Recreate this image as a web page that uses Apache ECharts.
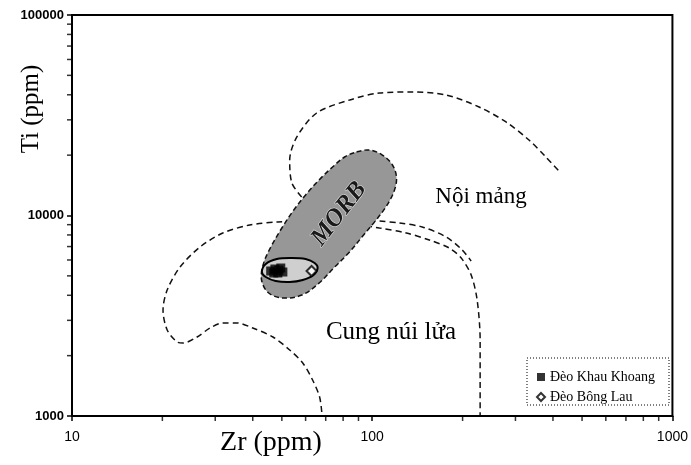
<!DOCTYPE html>
<html><head><meta charset="utf-8">
<script src="https://cdn.jsdelivr.net/npm/echarts@6/dist/echarts.min.js"></script>
<style>html,body{margin:0;padding:0;background:#fff}#c{width:691px;height:465px}</style>
</head><body><div id="c"></div>
<script>
// ---- data (Zr ppm, Ti ppm) ----
const xMinorTicks = [20,30,40,50,60,70,80,90,200,300,400,500,600,700,800,900];
const yMinorTicks = [2000,3000,4000,5000,6000,7000,8000,9000,20000,30000,40000,50000,60000,70000,80000,90000];
// within-plate field, upper boundary
const withinPlateUpper = [[58.2,12370],[54.0,14530],[53.1,18920],[56.1,24640],[65.3,32450],[84.1,37680],[105.7,40830],[136.0,41300],[176.4,39900],[227.0,34760],[279.0,29270],[332.7,23800],[378.8,19580],[424.9,16290]];
// within-plate field, lower boundary
const withinPlateLower = [[57.35,9716],[77.9,9716],[105.7,9388],[123.2,9175],[146.8,8764],[176.4,7812],[199.4,6730],[213.6,5931]];
// arc-lava field boundary
const arcBoundary = [[67.9,1047],[66.8,1244],[63.3,1512],[58.7,1838],[53.1,2134],[46.7,2477],[40.0,2747],[35.4,2910],[31.8,2910],[28.8,2747],[26.1,2477],[23.45,2313],[22.4,2340],[20.75,2685],[20.1,3379],[20.75,4250],[22.9,5535],[26.7,6965],[31.8,8180],[39.1,8966],[48.5,9281],[72.1,9388],[105.7,8664],[129.9,8180],[154.9,7548],[180.5,6884],[197.9,6138],[213.6,5049],[223.6,3790],[228.8,2394],[228.8,1512],[228.8,1012]];
// MORB field outline
const morbField = [[88.7,20740],[97.9,21210],[108.1,20030],[116.8,17860],[120.5,15380],[118.0,13100],[111.0,11030],[103.0,9497],[93.0,7902],[84.0,6577],[75.0,5535],[66.0,4553],[58.0,4000],[50.0,3880],[45.0,4130],[42.8,4768],[43.3,5664],[45.4,6730],[50.0,8664],[54.8,10650],[60.0,12660],[66.5,15030],[73.8,17460],[80.9,19580]];
// outline round the samples
const sampleOutline = [[42.9,5226],[44.2,5730],[48.1,6067],[53.95,6138],[60.0,6067],[64.3,5797],[65.8,5472],[63.8,5049],[58.7,4768],[53.1,4660],[47.7,4713],[44.2,4934]];
const khauKhoang = [[45.9,5286],[47.4,5409],[48.9,5347],[50.4,5226],[47.0,5167],[48.5,5167],[49.6,5472]];
const bongLau = [[62.8,5286]];
const seriesNames = ['Đèo Khau Khoang','Đèo Bông Lau'];

const chart = echarts.init(document.getElementById('c'), null, {renderer:'canvas'});
const dashed = {color:'#111', width:1.5, type:[6,4]};
function poly(points, style, z){
  return {type:'custom', coordinateSystem:'cartesian2d', data:[[50,5000]], z:z, clip:false, silent:true,
    renderItem:(params, api)=>({type:'polygon', shape:{points:points.map(p=>api.coord(p)), smooth:0.35}, style:style})};
}
function ticks(list, isX){
  return {type:'scatter', silent:true, clip:false, z:10, symbol:'rect',
    symbolSize: isX ? [1.5,5] : [5,1.5], symbolOffset: isX ? [0,2.5] : [-2.5,0],
    itemStyle:{color:'#000'}, data:list.map(v=> isX ? [v,1000] : [10,v])};
}
const plain = v => String(Math.round(v));
const option = {
  animation:false,
  backgroundColor:'#fff',
  grid:{left:72, right:17, top:15, bottom:49, show:true, borderColor:'#000', borderWidth:2},
  xAxis:{type:'log', logBase:10, min:10, max:1000,
    axisLine:{show:true, lineStyle:{color:'#000', width:2}},
    axisTick:{show:true, length:5, lineStyle:{color:'#000', width:1.5}},
    axisLabel:{color:'#000', fontFamily:'Liberation Sans', fontSize:14, margin:14, formatter:plain},
    splitLine:{show:false}},
  yAxis:{type:'log', logBase:10, min:1000, max:100000,
    axisLine:{show:true, lineStyle:{color:'#000', width:2}},
    axisTick:{show:true, length:5, lineStyle:{color:'#000', width:1.5}},
    axisLabel:{color:'#000', fontFamily:'Liberation Sans', fontSize:13, fontWeight:'bold', margin:8, formatter:plain},
    splitLine:{show:false}},
  legend:{orient:'vertical', left:531, top:365, itemWidth:8, itemHeight:8, itemGap:6, z:10,
    textStyle:{fontFamily:'Liberation Serif', fontSize:14, color:'#000'},
    data:[{name:seriesNames[0], icon:'rect'},{name:seriesNames[1], icon:'diamond'}]},
  graphic:[
    {type:'rect', z:1, shape:{x:527, y:358, width:142, height:47}, style:{fill:'#fff', stroke:'#000', lineWidth:1, lineDash:[1,2]}},
    {type:'text', z:50, x:481, y:197, style:{text:'Nội mảng', align:'center', verticalAlign:'middle', font:'23px "Liberation Serif"', fill:'#000'}},
    {type:'text', z:50, x:391, y:332, style:{text:'Cung núi lửa', align:'center', verticalAlign:'middle', font:'25px "Liberation Serif"', fill:'#000'}},
    {type:'text', z:50, x:339, y:214, rotation:52*Math.PI/180, style:{text:'MORB', align:'center', verticalAlign:'middle', font:'italic bold 25px "Liberation Serif"', fill:'#1a1a1a', stroke:'#e6e6e6', lineWidth:1}},
    {type:'text', z:50, x:271, y:443, style:{text:'Zr (ppm)', align:'center', verticalAlign:'middle', font:'28px "Liberation Serif"', fill:'#000'}},
    {type:'text', z:50, x:31, y:109, rotation:Math.PI/2, style:{text:'Ti (ppm)', align:'center', verticalAlign:'middle', font:'25px "Liberation Serif"', fill:'#000'}}
  ],
  series:[
    {type:'line', data:withinPlateUpper, showSymbol:false, smooth:0.3, silent:true, z:2, lineStyle:dashed},
    {type:'line', data:withinPlateLower, showSymbol:false, smooth:0.3, silent:true, z:2, lineStyle:dashed},
    {type:'line', data:arcBoundary, showSymbol:false, smooth:0.3, silent:true, z:2, lineStyle:dashed},
    poly(morbField, {fill:'#979797', stroke:'#111', lineWidth:1.5, lineDash:[5,3]}, 3),
    poly(sampleOutline, {fill:'#cfcfcf', stroke:'#000', lineWidth:2}, 4),
    {name:seriesNames[0], type:'scatter', data:khauKhoang, symbol:'rect', symbolSize:9, z:5, itemStyle:{color:'#000'}},
    {name:seriesNames[1], type:'scatter', data:bongLau, symbol:'diamond', symbolSize:10, z:5, itemStyle:{color:'#fff', borderColor:'#000', borderWidth:2}},
    ticks(xMinorTicks, true),
    ticks(yMinorTicks, false)
  ]
};
chart.setOption(option);
</script></body></html>
